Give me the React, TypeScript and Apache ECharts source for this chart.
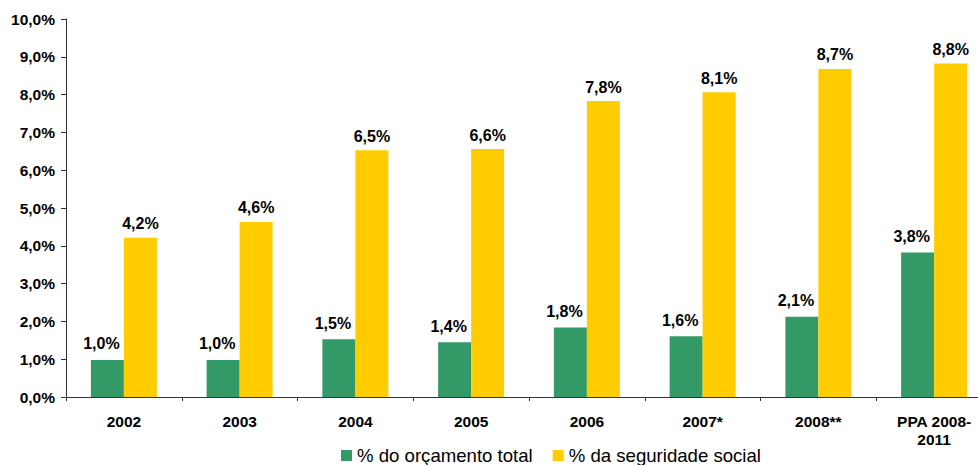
import React, { useEffect, useRef } from "react";
import * as echarts from "echarts";

const categories = ["2002", "2003", "2004", "2005", "2006", "2007*", "2008**", "PPA 2008-\n2011"];
const orcamentoTotal = [0.98, 0.98, 1.53, 1.45, 1.84, 1.61, 2.12, 3.82];
const seguridadeSocial = [4.21, 4.63, 6.53, 6.56, 7.83, 8.06, 8.68, 8.82];
const seriesNames = ["% do orçamento total", "% da seguridade social"];
const yTicks = { min: 0, max: 10, interval: 1 };

const fmt = (v: number) => v.toFixed(1).replace(".", ",") + "%";
const FONT = "'Liberation Sans', Arial, sans-serif";

export default function App() {
  const ref = useRef<HTMLDivElement>(null);
  useEffect(() => {
    document.body.style.margin = "0";
    const chart = echarts.init(ref.current!, null, { renderer: "svg" });
    chart.setOption({
      animation: false,
      backgroundColor: "#ffffff",
      textStyle: { fontFamily: FONT },
      grid: { left: 66, top: 19, bottom: 68, right: 0, containLabel: false },
      legend: {
        left: 341,
        top: 446,
        padding: 0,
        itemWidth: 11,
        itemHeight: 11,
        itemGap: 20,
        icon: "rect",
        textStyle: { fontFamily: FONT, fontSize: 18.6, color: "#000" },
        data: seriesNames,
      },
      xAxis: {
        type: "category",
        data: categories,
        axisLine: { lineStyle: { color: "#333", width: 1 } },
        axisTick: { show: true, length: 4, lineStyle: { color: "#333" } },
        axisLabel: {
          color: "#000",
          fontWeight: "bold",
          fontSize: 15.5,
          fontFamily: FONT,
          margin: 15,
          lineHeight: 18,
        },
      },
      yAxis: {
        type: "value",
        min: yTicks.min,
        max: yTicks.max,
        interval: yTicks.interval,
        splitLine: { show: false },
        axisLine: { show: true, lineStyle: { color: "#333", width: 1 } },
        axisTick: { show: true, length: 5, lineStyle: { color: "#333" } },
        axisLabel: {
          color: "#000",
          fontWeight: "bold",
          fontSize: 15.5,
          fontFamily: FONT,
          margin: 11,
          formatter: (v: number) => fmt(v),
        },
      },
      series: [
        {
          name: seriesNames[0],
          type: "bar",
          data: orcamentoTotal,
          barWidth: 33,
          barGap: "0%",
          itemStyle: { color: "#339966" },
          label: {
            show: true,
            position: "top",
            distance: 8,
            offset: [-6, 0],
            color: "#000",
            fontWeight: "bold",
            fontSize: 16,
            fontFamily: FONT,
            formatter: (p: any) => fmt(p.value),
          },
        },
        {
          name: seriesNames[1],
          type: "bar",
          data: seguridadeSocial,
          barWidth: 33,
          barGap: "0%",
          itemStyle: { color: "#FFCC00" },
          label: {
            show: true,
            position: "top",
            distance: 6,
            color: "#000",
            fontWeight: "bold",
            fontSize: 16,
            fontFamily: FONT,
            formatter: (p: any) => fmt(p.value),
          },
        },
      ],
    });
    return () => chart.dispose();
  }, []);
  return (
    <div style={{ width: 978, height: 465, overflow: "hidden", position: "relative" }}>
      <div ref={ref} style={{ width: 992, height: 465 }} />
    </div>
  );
}
